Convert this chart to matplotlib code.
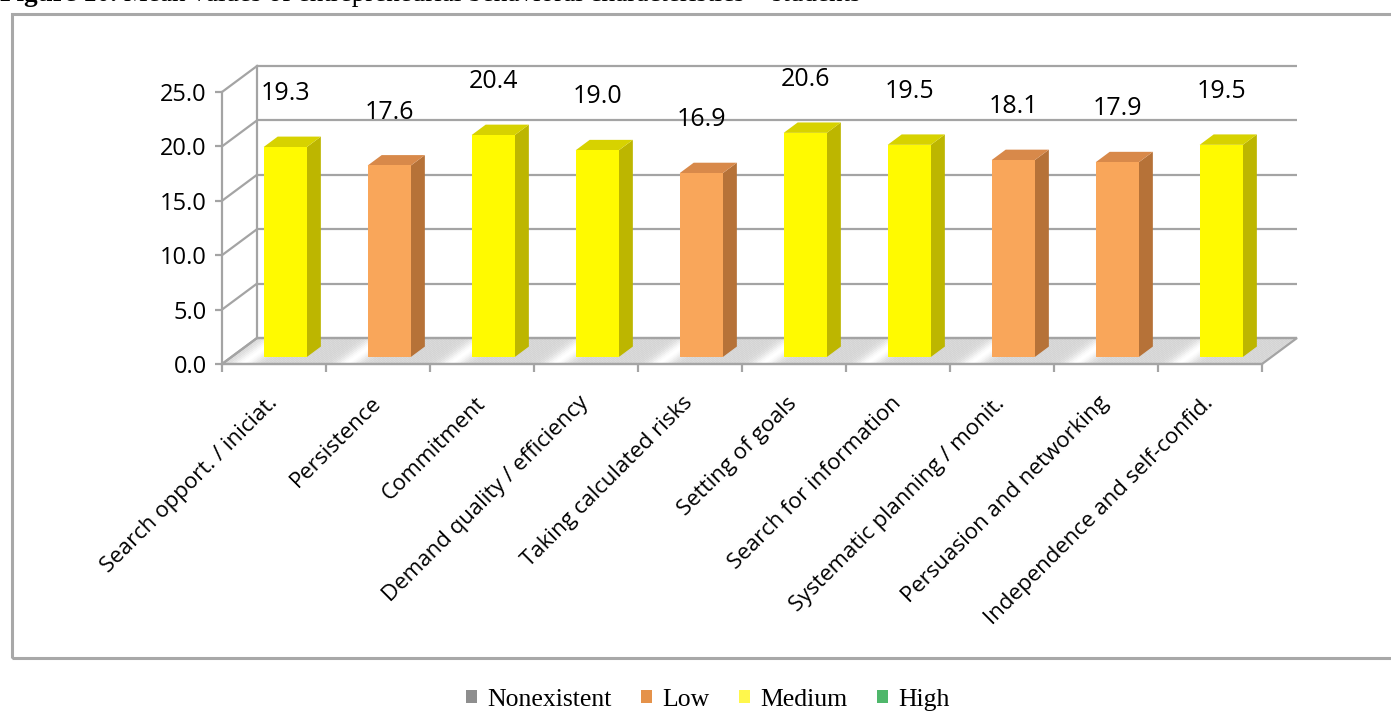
import numpy as np
import matplotlib
matplotlib.use("Agg")
import matplotlib.pyplot as plt
from matplotlib.patches import Polygon, Rectangle, Patch
from matplotlib.text import Annotation

# ---------------- data ----------------
categories = [
    "Search opport. / iniciat.",
    "Persistence",
    "Commitment",
    "Demand quality / efficiency",
    "Taking calculated risks",
    "Setting of goals",
    "Search for information",
    "Systematic planning / monit.",
    "Persuasion and networking",
    "Independence and self-confid.",
]
values = [19.3, 17.6, 20.4, 19.0, 16.9, 20.6, 19.5, 18.1, 17.9, 19.5]
levels = ["Medium", "Low", "Medium", "Medium", "Low",
          "Medium", "Medium", "Low", "Low", "Medium"]
y_ticks = [0, 5, 10, 15, 20, 25]
legend_labels = ["Nonexistent", "Low", "Medium", "High"]

# ---------------- styles ----------------
W, H = 1391, 720
face = {"Low": ("#F9A65A", "#B67238", "#D8894A"),
        "Medium": ("#FFFA00", "#BDB600", "#D7D200")}
legend_colors = ["#8E8E8E", "#E5924A", "#FFF74C", "#4FB76B"]
grid_c = "#A4A4A4"
font_sans = ["Open Sans", "DejaVu Sans"]
font_serif = ["Liberation Serif", "DejaVu Serif"]

fig = plt.figure(figsize=(W / 100, H / 100), dpi=100)
fig.patch.set_facecolor("white")

# outer frame
fig.patches.append(Rectangle((12 / W, 1 - 658 / H), 1.0, (658 - 14) / H,
                             transform=fig.transFigure, fill=False,
                             edgecolor="#A8A8A8", linewidth=2.2))

# title (partially cut off at the top edge, as in the reference)
t1 = fig.text(0 / W, 1 - 7 / H, "Figure 10.", family=font_serif,
              weight="bold", fontsize=19.5, ha="left", va="bottom")
fig.add_artist(Annotation(
    " Mean values of entrepreneurial behavioral characteristics \u2013 students",
    xy=(1, 0), xycoords=t1, va="bottom", ha="left",
    family=font_serif, fontsize=19.5))

# main axes: front plane of the 3-D chart
x0px, x1px, y0px, y1px = 222, 1262, 364, 92
ax = fig.add_axes([x0px / W, 1 - y0px / H, (x1px - x0px) / W, (y0px - y1px) / H])
n = len(categories)
ax.set_xlim(0, n)
ax.set_ylim(0, 25)
ax.patch.set_visible(False)

ppx = (x1px - x0px) / n          # px per category
ppy = (y0px - y1px) / 25.0       # px per value unit
DX = 35 / ppx                    # depth offset in data units
DY = 26 / ppy

# floor with light streaks
NS = 40
for i in range(n):
    for k in range(NS):
        u0, u1 = k / NS, (k + 1) / NS
        um = (u0 + u1) / 2
        d = min(abs(um - 0.2), abs(um - 1.2))
        g = 0.83 + 0.17 * np.exp(-(d / 0.12) ** 2)
        col = (g, g, g)
        ax.add_patch(Polygon([(i + u0, 0), (i + u1 + 0.002, 0),
                              (i + u1 + 0.002 + DX, DY), (i + u0 + DX, DY)],
                             closed=True, facecolor=col, edgecolor="none",
                             clip_on=False, zorder=1))
ax.add_patch(Polygon([(0, 0), (n, 0), (n + DX, DY), (DX, DY)], closed=True,
                     fill=False, edgecolor=grid_c, linewidth=1.6,
                     clip_on=False, zorder=2))

# back wall gridlines and side diagonals
for v in y_ticks:
    ax.plot([DX, n + DX], [v + DY, v + DY], color=grid_c, lw=1.6,
            clip_on=False, zorder=2, solid_capstyle="butt")
    ax.plot([0, DX], [v, v + DY], color=grid_c, lw=1.6,
            clip_on=False, zorder=2)
ax.plot([DX, DX], [DY, 25 + DY], color=grid_c, lw=1.6, clip_on=False, zorder=2)

# 3-D bars
z0, dz = 0.27, 0.40
bw_off, bw = 0.31, 0.415
for i, (v, lev) in enumerate(zip(values, levels)):
    fc, sc, tc = face[lev]
    bx0 = i + bw_off + z0 * DX
    bx1 = bx0 + bw
    by0 = z0 * DY
    by1 = by0 + v
    ex, ey = dz * DX, dz * DY
    ax.add_patch(Polygon([(bx1, by0), (bx1 + ex, by0 + ey), (bx1 + ex, by1 + ey), (bx1, by1)],
                         closed=True, facecolor=sc, edgecolor="none", clip_on=False, zorder=5))
    ax.add_patch(Polygon([(bx0, by1), (bx1, by1), (bx1 + ex, by1 + ey), (bx0 + ex, by1 + ey)],
                         closed=True, facecolor=tc, edgecolor="none", clip_on=False, zorder=5))
    ax.add_patch(Rectangle((bx0, by0), bw, v, facecolor=fc, edgecolor="none",
                           clip_on=False, zorder=6))
    ax.text((bx0 + bx1) / 2, by0 + v + 4.9, f"{v:.1f}", ha="center", va="center",
            family=font_sans, fontsize=18, color="black", zorder=7)

# axes: spines, ticks, labels
for s in ("top", "right"):
    ax.spines[s].set_visible(False)
for s in ("left", "bottom"):
    ax.spines[s].set_color(grid_c)
    ax.spines[s].set_linewidth(1.6)
    ax.spines[s].set_zorder(3)

ax.set_yticks(y_ticks)
ax.set_yticklabels([f"{v:.1f}" for v in y_ticks], family=font_sans, fontsize=17)
ax.tick_params(axis="y", length=5, width=1.6, color=grid_c, pad=6)

ax.set_xticks(np.arange(n) + 0.5)
ax.set_xticklabels(categories, rotation=45, ha="right", va="center",
                   rotation_mode="anchor", family=font_sans, fontsize=16)
ax.set_xticks(np.arange(n + 1), minor=True)
ax.tick_params(axis="x", which="major", length=0, pad=26)
ax.tick_params(axis="x", which="minor", length=6, width=1.6, color=grid_c,
               direction="out")

# legend
handles = [Patch(facecolor=c, edgecolor="none") for c in legend_colors]
fig.legend(handles, legend_labels, loc="center", bbox_to_anchor=(708 / W, 1 - 700 / H),
           ncol=4, frameon=False, prop={"family": font_serif, "size": 18.5},
           handlelength=0.42, handleheight=0.42, handletextpad=0.4,
           columnspacing=1.15, borderpad=0)

fig.savefig("out.png", dpi=100)
